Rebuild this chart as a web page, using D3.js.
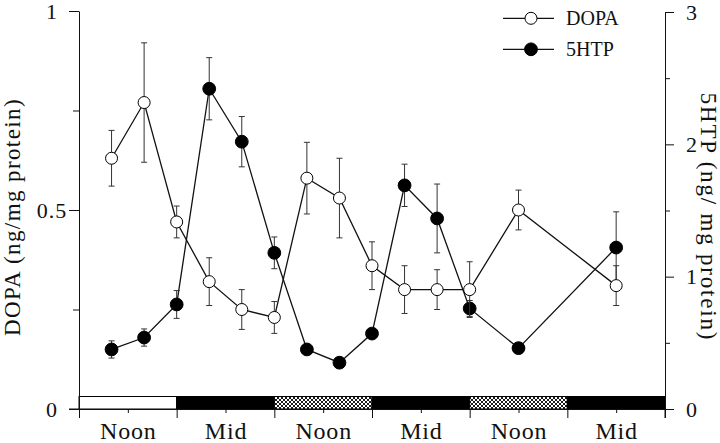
<!DOCTYPE html>
<html><head><meta charset="utf-8">
<script src="https://cdn.jsdelivr.net/npm/d3@7"></script>
<style>
body{margin:0;background:#fff}
svg text{font-family:"Liberation Serif","Times New Roman",serif;fill:#111}
</style>
</head><body>
<svg id="chart" width="720" height="443" font-family="Liberation Serif"></svg>
<script>
// time of sampling, hours from the start of the first light phase (06:00)
const hours = [4, 8, 12, 16, 20, 24, 28, 32, 36, 40, 44, 48, 54, 66];
const dopa = [0.63, 0.77, 0.47, 0.32, 0.25, 0.23, 0.58, 0.53, 0.36, 0.30, 0.30, 0.30, 0.50, 0.31];
const dopaErr = [0.07, 0.15, 0.04, 0.06, 0.05, 0.04, 0.09, 0.10, 0.06, 0.06, 0.05, 0.07, 0.05, 0.05];
const htp = [0.45, 0.54, 0.79, 2.42, 2.02, 1.18, 0.45, 0.35, 0.57, 1.69, 1.44, 0.76, 0.46, 1.22];
const htpErr = [0.065, 0.065, 0.105, 0.235, 0.19, 0.12, 0.02, 0.02, 0.03, 0.16, 0.26, 0.06, 0.03, 0.27];
const phaseTypes = ["light", "dark", "hatched", "dark", "hatched", "dark"];
const phaseLabels = ["Noon", "Mid", "Noon", "Mid", "Noon", "Mid"];
const leftMajor = [0, 0.5, 1];
const leftMinor = [0.25, 0.75];
const rightMajor = [0, 1, 2, 3];
const rightMinor = [0.5, 1.5, 2.5];
const seriesNames = ["DOPA", "5HTP"];

const FONT = "Liberation Serif";
const svg = d3.select("#chart");
const X0 = 79, X1 = 665, Y0 = 409;
const x = d3.scaleLinear().domain([0, 72]).range([X0, X1]);
const yL = d3.scaleLinear().domain([0, 1]).range([Y0, 11]);
const yR = d3.scaleLinear().domain([0, 3]).range([Y0, 12]);
const ink = "#111";

const defs = svg.append("defs");
const pat = defs.append("pattern").attr("id", "hatch").attr("width", 4).attr("height", 4)
  .attr("patternUnits", "userSpaceOnUse");
pat.append("rect").attr("width", 4).attr("height", 4).attr("fill", "#fff");
pat.append("path").attr("d", "M0,0L4,4M4,0L0,4M-1,3L1,5M3,-1L5,1M3,5L5,3M-1,1L1,-1")
  .attr("stroke", "#000").attr("stroke-width", 0.9);

// light/dark bar
const barTop = 396.5;
svg.append("g").selectAll("rect").data(phaseTypes).join("rect")
  .attr("x", (d, i) => x(i * 12)).attr("y", barTop)
  .attr("width", (d, i) => x((i + 1) * 12) - x(i * 12)).attr("height", Y0 - barTop)
  .attr("fill", d => d === "dark" ? "#000" : d === "hatched" ? "url(#hatch)" : "#fff")
  .attr("stroke", "#000").attr("stroke-width", 1);

function styleAxis(g) {
  g.attr("font-family", FONT);
  g.selectAll("path,line").attr("stroke", ink).attr("stroke-width", 1);
  g.selectAll("text").attr("font-family", FONT).attr("fill", ink);
}

// bottom axis: major ticks at phase boundaries, minor ticks at phase centres with labels
svg.append("g").attr("transform", `translate(0,${Y0})`)
  .call(d3.axisBottom(x).tickValues(d3.range(0, 73, 12)).tickSize(9).tickSizeOuter(0).tickFormat(""))
  .call(styleAxis);
const bx = svg.append("g").attr("transform", `translate(0,${Y0})`)
  .call(d3.axisBottom(x).tickValues(d3.range(6, 72, 12)).tickSize(4).tickSizeOuter(0)
    .tickPadding(9).tickFormat((d, i) => phaseLabels[i]))
  .call(styleAxis);
bx.select(".domain").remove();
bx.selectAll("text").attr("font-size", 24).attr("letter-spacing", 0.8);

// left axis
const la = svg.append("g").attr("transform", `translate(${X0},0)`)
  .call(d3.axisLeft(yL).tickValues(leftMajor).tickSize(10).tickSizeOuter(0)
    .tickFormat(d => String(d)))
  .call(styleAxis);
la.selectAll("text").attr("font-size", 22)
  .attr("text-anchor", "middle").attr("x", -27).attr("letter-spacing", 1);
svg.append("g").attr("transform", `translate(${X0},0)`)
  .call(d3.axisLeft(yL).tickValues(leftMinor).tickSize(6).tickSizeOuter(0).tickFormat(""))
  .call(styleAxis).select(".domain").remove();

// right axis
const ra = svg.append("g").attr("transform", `translate(${X1},0)`)
  .call(d3.axisRight(yR).tickValues(rightMajor).tickSize(9).tickSizeOuter(0).tickPadding(12)
    .tickFormat(d3.format("d")))
  .call(styleAxis);
ra.selectAll("text").attr("font-size", 22);
svg.append("g").attr("transform", `translate(${X1},0)`)
  .call(d3.axisRight(yR).tickValues(rightMinor).tickSize(5).tickSizeOuter(0).tickFormat(""))
  .call(styleAxis).select(".domain").remove();
// extend vertical axes below baseline, and the zero tick on the left
svg.append("line").attr("x1", X1).attr("x2", X1).attr("y1", Y0).attr("y2", Y0 + 9).attr("stroke", ink);
svg.append("line").attr("x1", X0 - 10).attr("x2", X0).attr("y1", Y0).attr("y2", Y0).attr("stroke", ink);

// axis titles
svg.append("text").attr("transform", `translate(20,217) rotate(-90)`)
  .attr("font-family", FONT).attr("fill", ink)
  .attr("text-anchor", "middle").attr("font-size", 23).attr("letter-spacing", 1.4)
  .text("DOPA (ng/mg protein)");
svg.append("text").attr("transform", `translate(701,217) rotate(90)`)
  .attr("font-family", FONT).attr("fill", ink)
  .attr("text-anchor", "middle").attr("font-size", 23).attr("letter-spacing", 1.8)
  .text("5HTP (ng/ mg protein)");

// series
const sets = [
  {vals: htp, err: htpErr, y: yR, filled: true, r: 6.4},
  {vals: dopa, err: dopaErr, y: yL, filled: false, r: 6}
];
sets.forEach(s => {
  const pts = hours.map((h, i) => ({h, v: s.vals[i], e: s.err[i]}));
  const g = svg.append("g");
  g.append("path").datum(pts)
    .attr("d", d3.line().x(d => x(d.h)).y(d => s.y(d.v)))
    .attr("fill", "none").attr("stroke", ink).attr("stroke-width", 1.3);
  const eb = g.selectAll("g.eb").data(pts).join("g").attr("class", "eb");
  eb.append("line").attr("x1", d => x(d.h)).attr("x2", d => x(d.h))
    .attr("y1", d => s.y(d.v - d.e)).attr("y2", d => s.y(d.v + d.e))
    .attr("stroke", "#333").attr("stroke-width", 1);
  [-1, 1].forEach(sg => eb.append("line")
    .attr("x1", d => x(d.h) - 3).attr("x2", d => x(d.h) + 3)
    .attr("y1", d => s.y(d.v + sg * d.e)).attr("y2", d => s.y(d.v + sg * d.e))
    .attr("stroke", "#333").attr("stroke-width", 1));
  g.selectAll("circle").data(pts).join("circle")
    .attr("cx", d => x(d.h)).attr("cy", d => s.y(d.v)).attr("r", s.r)
    .attr("fill", s.filled ? "#000" : "#fff").attr("stroke", "#000").attr("stroke-width", 1);
});

// legend
const lg = svg.append("g");
seriesNames.forEach((name, i) => {
  const yy = [18.3, 49.3][i];
  lg.append("line").attr("x1", 503).attr("x2", 554).attr("y1", yy).attr("y2", yy)
    .attr("stroke", ink).attr("stroke-width", 1.2);
  lg.append("circle").attr("cx", 531).attr("cy", yy).attr("r", i === 0 ? 6 : 6.4)
    .attr("fill", i === 0 ? "#fff" : "#000").attr("stroke", "#000");
  lg.append("text").attr("x", 566).attr("y", yy + 6.5).attr("font-family", FONT)
    .attr("fill", ink).attr("font-size", 20).text(name);
});
</script>
</body></html>
